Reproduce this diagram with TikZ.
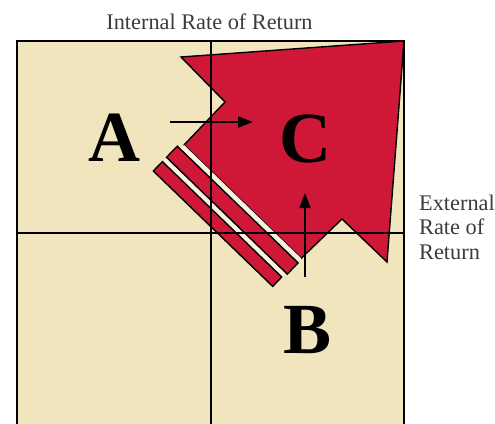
\documentclass[tikz,border=0pt]{standalone}
\usepackage{fontspec}
\setmainfont{Liberation Serif}
\usetikzlibrary{arrows.meta}
\definecolor{bg}{RGB}{240,229,188}
\definecolor{arrowred}{RGB}{207,24,56}
\definecolor{gapcream}{RGB}{248,243,222}
\definecolor{labelgray}{RGB}{60,60,60}
\begin{document}
\begin{tikzpicture}[x=1pt,y=-1pt,
  gridline/.style={line width=2pt, draw=black},
  outline/.style={draw=black, line width=1.4pt, line join=miter},
  bigletter/.style={font=\fontsize{72}{72}\selectfont\bfseries, inner sep=0pt, anchor=base},
  axislabel/.style={font=\fontsize{22.3}{25}\selectfont, text=labelgray, inner sep=0pt},
  flowarrow/.style={line width=2pt, -{Triangle[length=15pt,width=11pt]}}]
\useasboundingbox (0,0) rectangle (495,423);
\fill[white] (0,0) rectangle (495,423);
\begin{scope}
  \clip (0,0) rectangle (495,423);
  \fill[bg] (17,41) rectangle (404,440);
  % big red arrow
  \draw[outline, fill=arrowred] (181,57) -- (404,41) -- (387,262) -- (342,219)
     -- (301.2,258.3) -- (184,145) -- (225,102) -- cycle;
  % light gaps
  \fill[gapcream] (184,145) -- (301.2,258.3) -- (297.4,262.3) -- (180.2,149.0) -- cycle;
  \fill[gapcream] (166.5,157.3) -- (285.9,272.7) -- (281.7,277.0) -- (162.4,161.6) -- cycle;
  % stripes
  \draw[outline, fill=arrowred] (177.3,146.2) -- (298.1,262.9) -- (287.3,274.1) -- (166.5,157.3) -- cycle;
  \draw[outline, fill=arrowred] (162.4,161.6) -- (281.7,277.0) -- (272.7,286.4) -- (153.3,171.0) -- cycle;
  % grid
  \draw[gridline] (211,41) -- (211,440);
  \draw[gridline] (17,233) -- (404,233);
  \draw[line width=2.2pt] (17,440) -- (17,41) -- (404,41) -- (404,440);
\end{scope}
\node[axislabel, anchor=base] (title) at (209.5,29.5) {Internal Rate of Return};
\node[axislabel, anchor=base west] (ext1) at (419,210) {External};
\node[axislabel, anchor=base west] (ext2) at (419,234.5) {Rate of};
\node[axislabel, anchor=base west] (ext3) at (419,259.5) {Return};
\node[bigletter] (A) at (114,161) {A};
\node[bigletter] (C) at (305.5,162) {C};
\node[bigletter] (B) at (308,353) {B};
\coordinate (a0) at (170,122);
\coordinate (a1) at (253,122);
\coordinate (b0) at (305,277);
\coordinate (b1) at (305,193);
\draw[flowarrow] (a0) -- (a1);
\draw[flowarrow] (b0) -- (b1);
\end{tikzpicture}
\end{document}
